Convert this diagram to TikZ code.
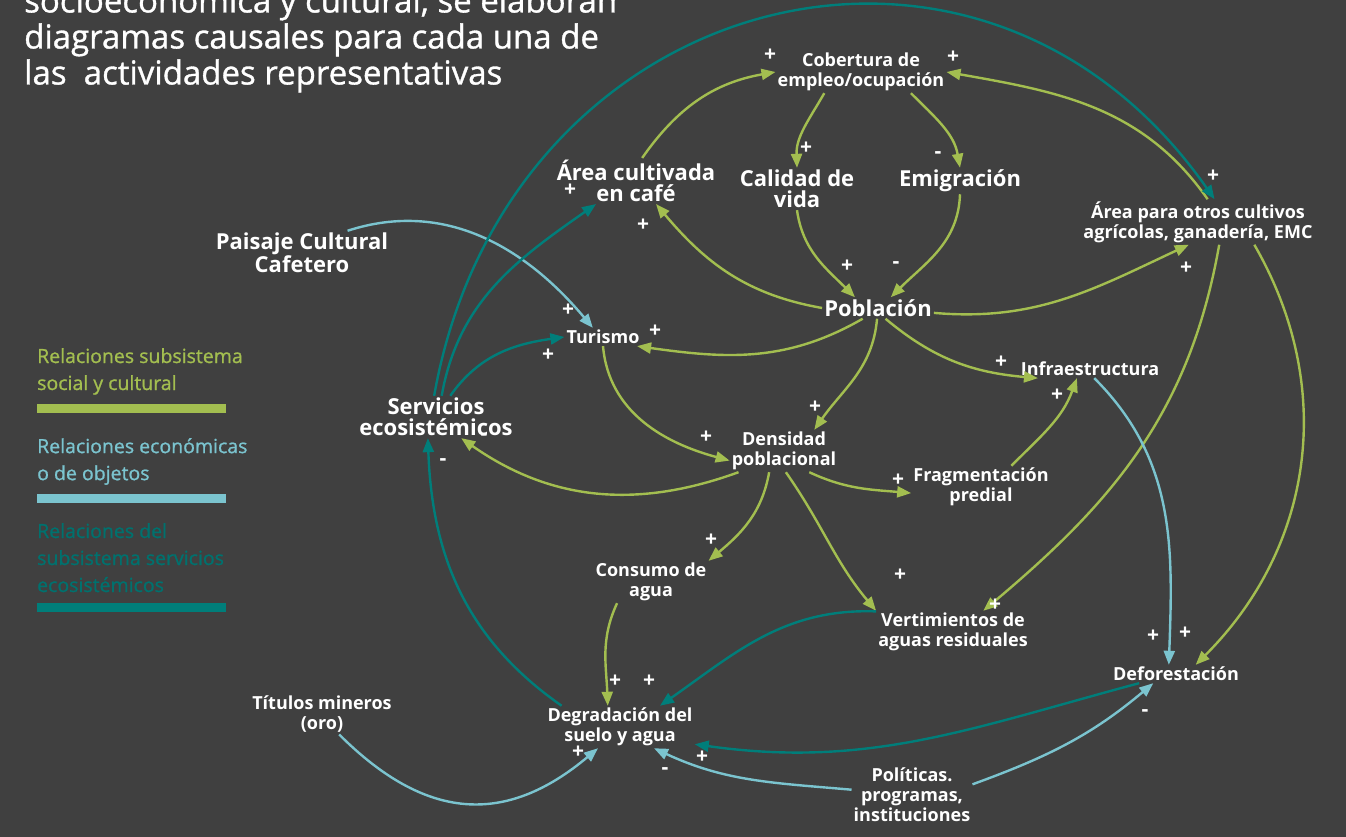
\documentclass[tikz,border=0pt]{standalone}
\usepackage{fontspec}
\setmainfont{Open Sans}
\newfontfamily\medio[FakeBold=1]{Open Sans}
\usetikzlibrary{arrows.meta}

\definecolor{fondo}{HTML}{404040}
\definecolor{verde}{HTML}{A3BE50}
\definecolor{celeste}{HTML}{7BC4CF}
\definecolor{petroleo}{HTML}{007E7A}

\tikzset{
  grande/.style={text=white, align=center, inner sep=2pt, font=\bfseries\fontsize{22}{21}\selectfont},
  chico/.style={text=white, align=center, inner sep=2pt, font=\bfseries\fontsize{18}{20}\selectfont},
  signo/.style={text=white, inner sep=0pt, font=\bfseries\fontsize{21}{21}\selectfont},
  leyenda/.style={anchor=north west, align=left, inner sep=0pt, font=\medio\fontsize{19.5}{27}\selectfont},
  flecha/.style={line width=2.4pt, -{Triangle[length=14pt,width=11pt]}},
  social/.style={flecha, draw=verde},
  economica/.style={flecha, draw=celeste},
  servicio/.style={flecha, draw=petroleo},
}

\begin{document}
\begin{tikzpicture}[x=1pt,y=1pt]
\useasboundingbox (0,0) rectangle (1346,837);
\fill[fondo] (0,0) rectangle (1346,837);

% titulo
\node[anchor=north west, align=left, inner sep=0pt, text=white,
      font=\medio\fontsize{33}{36}\selectfont] (titulo) at (24,850)
  {socioeconómica y cultural, se elaboran\\diagramas causales para cada una de\\las\ \ actividades representativas};

% leyenda
\node[leyenda, text=verde] (leySocial) at (37,489) {Relaciones subsistema\\social y cultural};
\fill[verde] (37,424) rectangle (226,433);
\node[leyenda, text=celeste] (leyEcon) at (37,399) {Relaciones económicas\\o de objetos};
\fill[celeste] (37,334) rectangle (226,343);
\node[leyenda, text=petroleo!90!black] (leyServ) at (37,314) {Relaciones del\\subsistema servicios\\ecosistémicos};
\fill[petroleo] (37,225) rectangle (226,234);

% variables
\node[chico]  (cob)     at (861,765) {Cobertura de\\empleo/ocupación};
\node[grande] (arcafe)  at (636,656) {Área cultivada\\en café};
\node[grande] (calidad) at (797,648) {Calidad de\\vida};
\node[grande] (emig)    at (960,656) {Emigración};
\node[chico]  (otros)   at (1198,615) {Área para otros cultivos\\agrícolas, ganadería, EMC};
\node[grande] (paisaje) at (302,584) {Paisaje Cultural\\Cafetero};
\node[grande] (pob)     at (878,529) {Población};
\node[chico]  (tur)     at (603,500) {Turismo};
\node[chico]  (infra)   at (1090,468) {Infraestructura};
\node[grande] (serv)    at (436,420) {Servicios\\ecosistémicos};
\node[chico]  (dens)    at (784,386) {Densidad\\poblacional};
\node[chico]  (frag)    at (981,350) {Fragmentación\\predial};
\node[chico]  (cons)    at (651,255) {Consumo de\\agua};
\node[chico]  (vert)    at (953,205) {Vertimientos de\\aguas residuales};
\node[chico]  (defor)   at (1176,163) {Deforestación};
\node[chico]  (titulos) at (322,123) {Títulos mineros\\(oro)};
\node[chico]  (degr)    at (620,110) {Degradación del\\suelo y agua};
\node[chico]  (pol)     at (912,42) {Políticas.\\programas,\\instituciones};

% subsistema social y cultural
\draw[social] (arcafe.75) to[out=55,in=190] (cob.west);
\draw[social] (cob.210) to[out=240,in=92] (calidad.north);
\draw[social] (cob.337) to[out=-45,in=100] (emig.north);
\draw[social] (calidad.south) to[out=-82,in=135] (pob.155);
\draw[social] (emig.south) to[out=-92,in=45] (pob.40);
\draw[social] (pob.west) to[out=170,in=-50] (arcafe.-49);
\draw[social] (pob.-5) to[out=-5,in=205] (otros.-112);
\draw[social] (otros.67) to[out=125,in=-10] (cob.east);
\draw[social] (pob.215) to[out=210,in=-8] (tur.-15);
\draw[social] (pob.-95) to[out=-95,in=55] (dens.35);
\draw[social] (pob.-55) to[out=-40,in=175] (infra.190);
\draw[social] (tur.south) to[out=-85,in=165] (dens.190);
\draw[social] (dens.205) to[out=200,in=-35] (serv.-40);
\draw[social] (dens.-40) to[out=-25,in=175] (frag.185);
\draw[social] (frag.35) to[out=45,in=-110] (infra.-145);
\draw[social] (dens.-125) to[out=-100,in=40] (cons.north east);
\draw[social] (dens.-85) to[out=-55,in=130] (vert.north west);
\draw[social] (otros.-47) to[out=-100,in=40] (vert.35);
\draw[social] (otros.-22) to[out=-60,in=45] (defor.25);
\draw[social] (cons.212) to[out=-115,in=92] (degr.120);

% economicas o de objetos
\draw[economica] (paisaje.26) to[out=18,in=130] (tur.138);
\draw[economica] (infra.-65) to[out=-45,in=88] (defor.128);
\draw[economica] (titulos.-50) to[out=-45,in=-140,looseness=1.2] (degr.-136);
\draw[economica] (pol.175) to[out=175,in=-25] (degr.-32);
\draw[economica] (pol.10) to[out=20,in=-140] (defor.-158);

% servicios ecosistemicos
\draw[servicio] (serv.95) to[out=80,in=125,looseness=1.31] (otros.54);
\draw[servicio] (serv.75) to[out=80,in=-145] (arcafe.-150);
\draw[servicio] (serv.56) to[out=55,in=188] (tur.west);
\draw[servicio] (degr.160) to[out=145,in=-88] (serv.-111);
\draw[servicio] (vert.165) to[out=178,in=35] (degr.28);
\draw[servicio] (defor.-166) to[out=195,in=-8] (degr.-13);

% polaridades
\foreach \x/\y/\s [count=\i] in {770/782/+, 806/689/+, 938/682/-, 847/571/+, 896/572/-,
    643/612/+, 1186/569/+, 953/780/+, 655/506/+, 815/430/+, 1001/475/+, 706/400/+,
    484/400/-, 898/357/+, 1057/442/+, 711/297/+, 900/262/+, 995/232/+, 1185/204/+,
    615/156/+, 568/527/+, 1153/201/+, 578/85/+, 665/66/-, 1145/124/-, 1213/661/+,
    570/647/+, 548/482/+, 443/375/-, 649/156/+, 702/80/+}
{
	\node[signo] (sig\i) at (\x,\y) {\s};
}

\end{tikzpicture}
\end{document}
